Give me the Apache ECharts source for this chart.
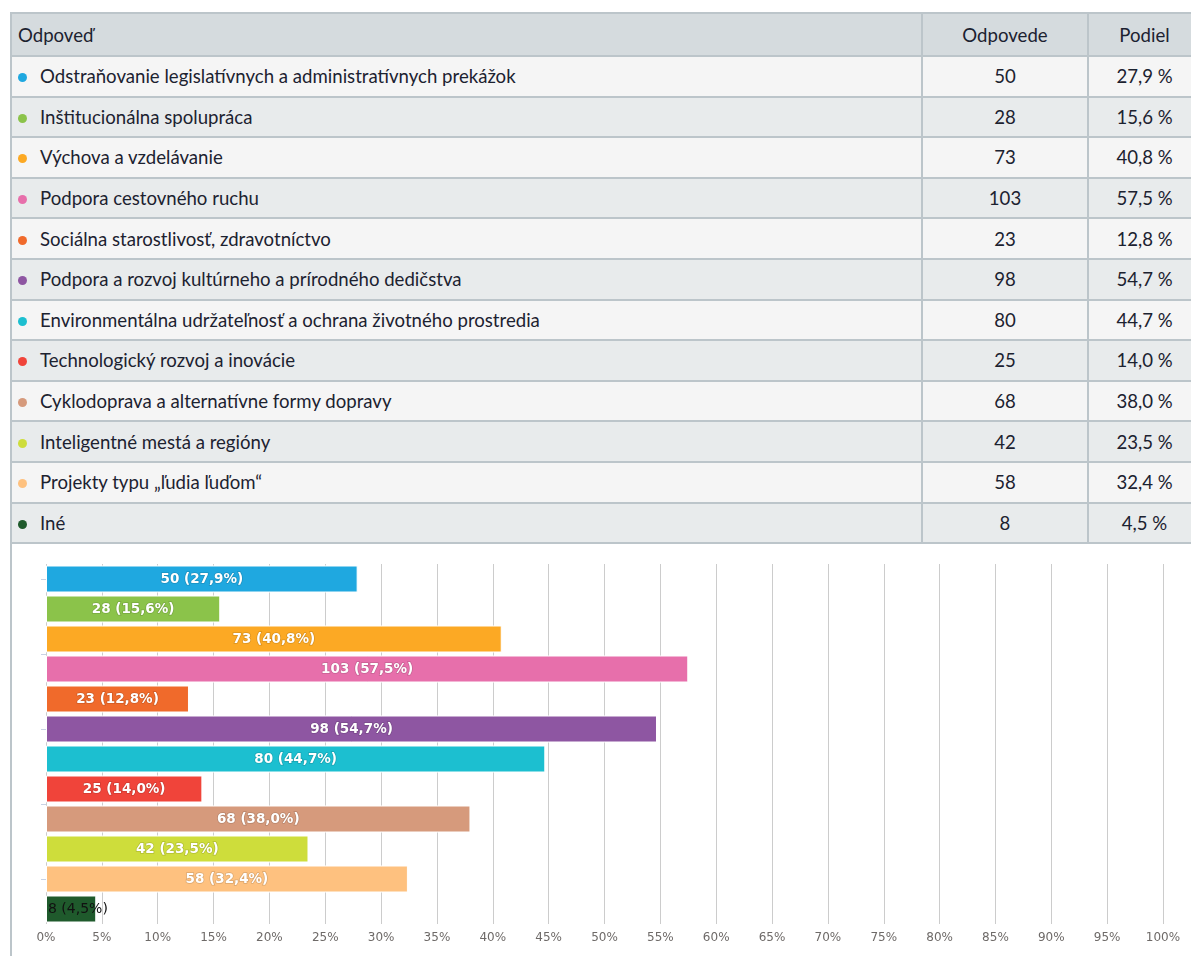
<!DOCTYPE html>
<html>
<head>
<meta charset="utf-8">
<script src="https://cdn.jsdelivr.net/npm/echarts@6/dist/echarts.min.js"></script>
<style>
  html, body { margin: 0; padding: 0; background: #fff; }
  body { width: 1191px; height: 956px; overflow: hidden; position: relative; }
  #tbl {
    position: absolute; left: 10px; top: 12px; width: 1190px;
    border-collapse: collapse; table-layout: fixed;
    font-family: Lato, sans-serif; font-size: 18.6px; color: #1c2230;
  }
  #tbl td, #tbl th { border: 2px solid #bcc5ca; padding: 0; font-weight: normal; }
  #tbl th { background: #d5dbde; height: 41px; }
  #tbl tr.odd td { background: #f5f5f5; }
  #tbl tr.even td { background: #e8ebec; }
  #tbl td { height: 38.6px; }
  #tbl .name { text-align: left; padding-left: 6px; }
  #tbl .num { text-align: center; }
  .dot { display: inline-block; width: 9px; height: 9px; border-radius: 50%; margin-right: 13px; vertical-align: 1px; }
  #edge { position: absolute; left: 10px; top: 543px; width: 2px; height: 420px; background: #bcc5ca; }
  #chart { position: absolute; left: 0; top: 545px; width: 1191px; height: 411px; }
</style>
</head>
<body>
<table id="tbl"></table>
<div id="edge"></div>
<div id="chart"></div>
<script>
// Answers, counts and shares (percent)
const answers = [
  'Odstraňovanie legislatívnych a administratívnych prekážok',
  'Inštitucionálna spolupráca',
  'Výchova a vzdelávanie',
  'Podpora cestovného ruchu',
  'Sociálna starostlivosť, zdravotníctvo',
  'Podpora a rozvoj kultúrneho a prírodného dedičstva',
  'Environmentálna udržateľnosť a ochrana životného prostredia',
  'Technologický rozvoj a inovácie',
  'Cyklodoprava a alternatívne formy dopravy',
  'Inteligentné mestá a regióny',
  'Projekty typu „ľudia ľuďom“',
  'Iné'
];
const counts = [50, 28, 73, 103, 23, 98, 80, 25, 68, 42, 58, 8];
const shares = [27.9, 15.6, 40.8, 57.5, 12.8, 54.7, 44.7, 14.0, 38.0, 23.5, 32.4, 4.5];
const colors = ['#1fa8e0', '#8bc34a', '#fca924', '#e76fab', '#f06a2b', '#8e56a2',
                '#1cbfd0', '#f0443a', '#d69a7c', '#cedd3b', '#fec17f', '#1f5a2c'];
const headers = ['Odpoveď', 'Odpovede', 'Podiel'];
// positions of the small ticks on the left axis (in category units)
const yTickValues = [0.5, 3, 5.5, 8, 10.5];

const fmt = v => v.toFixed(1).replace('.', ',');

// Table
const tbl = document.getElementById('tbl');
let html = '<colgroup><col style="width:911px"><col style="width:166px"><col style="width:113px"></colgroup>';
html += '<tr><th class="name">' + headers[0] + '</th><th class="num">' + headers[1] +
        '</th><th class="num">' + headers[2] + '</th></tr>';
answers.forEach((a, i) => {
  html += '<tr class="' + (i % 2 === 0 ? 'odd' : 'even') + '">' +
    '<td class="name"><span class="dot" style="background:' + colors[i] + '"></span>' + a + '</td>' +
    '<td class="num">' + counts[i] + '</td>' +
    '<td class="num">' + fmt(shares[i]) + ' %</td></tr>';
});
tbl.innerHTML = html;

// Chart
const chart = echarts.init(document.getElementById('chart'));

const barData = shares.map((s, i) => {
  const item = { value: s, itemStyle: { color: colors[i] } };
  if (i === answers.length - 1) {
    item.label = {
      position: 'insideLeft', distance: 2, color: '#111',
      fontSize: 14, fontWeight: 'normal', textBorderWidth: 0
    };
  }
  return item;
});

chart.setOption({
  animation: false,
  grid: { left: 46, right: 28, top: 19, height: 360 },
  xAxis: {
    type: 'value',
    min: 0,
    max: 100,
    interval: 5,
    axisLine: { show: false },
    axisTick: { show: false },
    splitLine: { lineStyle: { color: '#cccccc', width: 1 } },
    axisLabel: {
      formatter: '{value}%',
      color: '#6e6a68',
      fontSize: 12,
      fontFamily: 'DejaVu Sans',
      margin: 8
    }
  },
  yAxis: [
    {
      type: 'category',
      data: answers,
      inverse: true,
      axisLine: { show: false },
      axisTick: { show: false },
      axisLabel: { show: false }
    },
    {
      type: 'value',
      min: 0,
      max: 12,
      inverse: true,
      position: 'left',
      axisLine: { show: false },
      splitLine: { show: false },
      axisLabel: { show: false },
      axisTick: {
        show: true,
        length: 5,
        customValues: yTickValues,
        lineStyle: { color: '#c8d2e4' }
      }
    }
  ],
  series: [
    {
      type: 'bar',
      yAxisIndex: 0,
      data: barData,
      barWidth: 27,
      itemStyle: { borderColor: '#ffffff', borderWidth: 1 },
      label: {
        show: true,
        position: 'inside',
        color: '#ffffff',
        fontFamily: 'DejaVu Sans',
        fontSize: 13.5,
        fontWeight: 'bold',
        textBorderColor: 'rgba(0,0,0,0.15)',
        textBorderWidth: 1.5,
        formatter: p => counts[p.dataIndex] + ' (' + fmt(shares[p.dataIndex]) + '%)'
      }
    }
  ]
});
</script>
</body>
</html>
